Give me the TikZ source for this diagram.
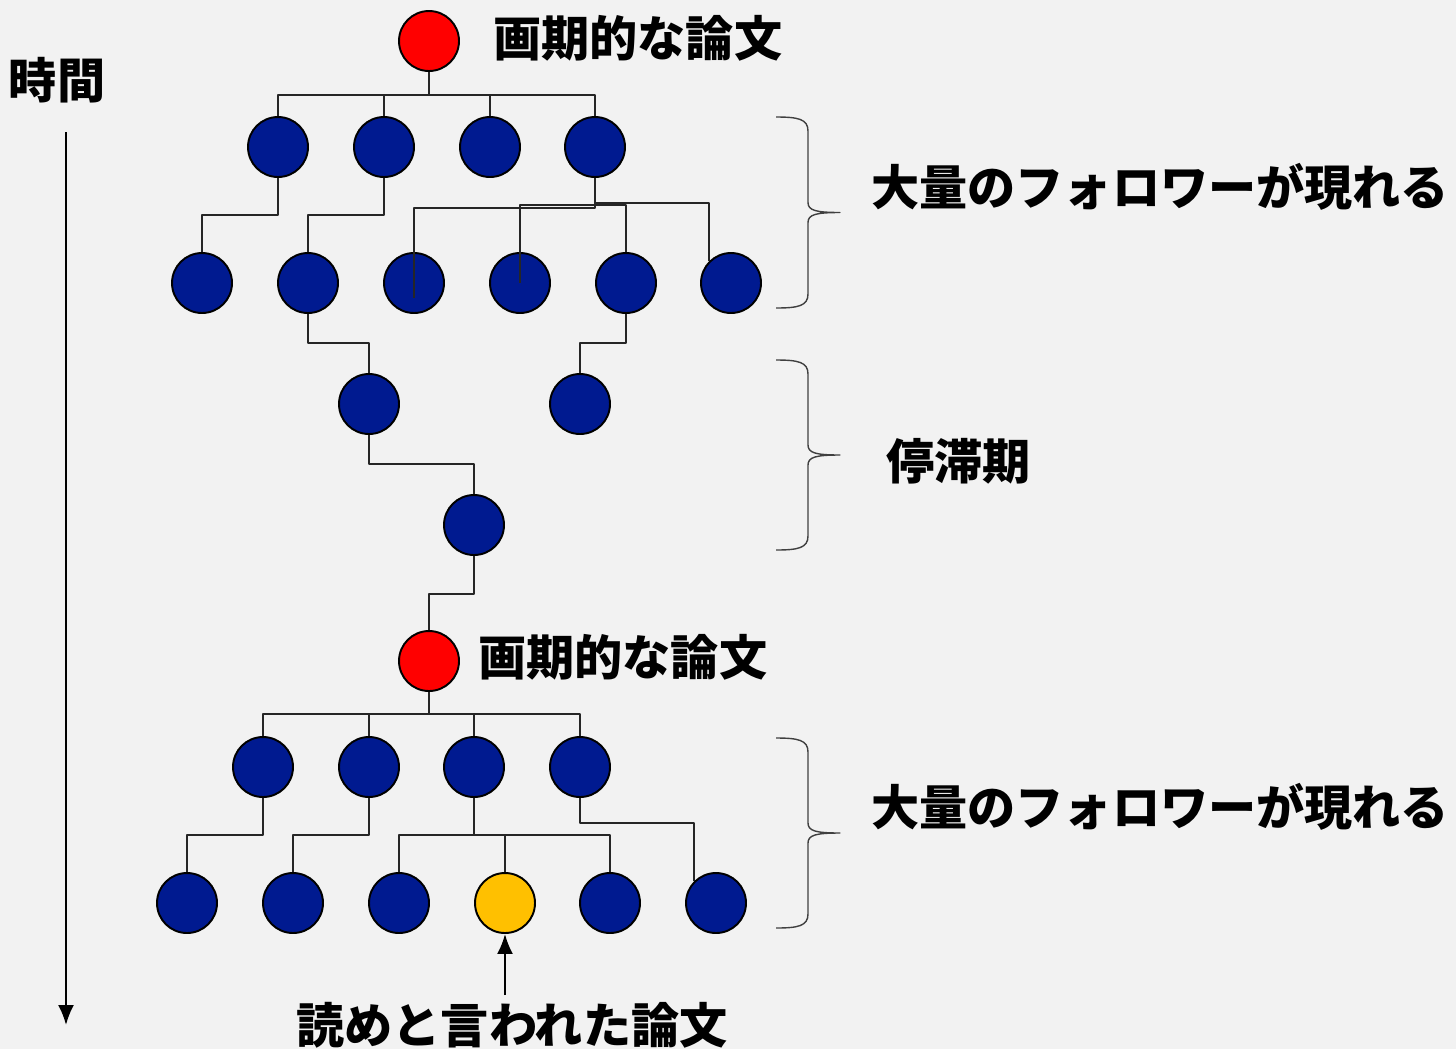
\documentclass[tikz,border=0pt]{standalone}
\usepackage{fontspec}
\newfontfamily\jpfont{Noto Sans CJK JP}
\usetikzlibrary{arrows.meta, calc}
\definecolor{paperblue}{HTML}{001A90}
\definecolor{seedred}{HTML}{FF0000}
\definecolor{readyellow}{HTML}{FFC000}
\definecolor{bggray}{HTML}{F2F2F2}
\tikzset{>={Latex[length=0.4cm,width=0.32cm]}}
\tikzset{paper/.style={circle, draw=black, line width=1.1pt, inner sep=0pt,
    minimum size=1.2cm, fill=paperblue}}
\tikzset{seed/.style={paper, fill=seedred}}
\tikzset{target/.style={paper, fill=readyellow}}
\tikzset{cite/.style={draw=black!85, line width=0.8pt}}
\tikzset{lbl/.style={font=\jpfont\bfseries\fontsize{27.4}{32}\selectfont, inner sep=0pt}}
\tikzset{bracket/.style={draw=black!75, line width=0.8pt}}

\begin{document}
\begin{tikzpicture}[x=0.02cm, y=-0.02cm, line join=round]
\fill[bggray] (0,0) rectangle (1456,1049);
\useasboundingbox (0,0) rectangle (1456,1049);

% papers
\node[seed] (seed1) at (429,41) {};
\foreach \x [count=\i] in {278,384,490,595}
    \node[paper] (a\i) at (\x,147) {};
\foreach \x [count=\i] in {202,308,414,520,626,731}
    \node[paper] (b\i) at (\x,283) {};
\node[paper] (c1) at (369,404) {};
\node[paper] (c2) at (580,404) {};
\node[paper] (d1) at (474,525) {};
\node[seed] (seed2) at (429,661) {};
\foreach \x [count=\i] in {263,369,474,580}
    \node[paper] (e\i) at (\x,767) {};
\foreach \x/\s [count=\i] in {187/paper,293/paper,399/paper,505/target,610/paper,716/paper}
    \node[\s] (f\i) at (\x,903) {};

% citations
\foreach \i in {1,...,4}
    \draw[cite] (seed1.south) -- ++(0,23) -| (a\i.north);
\draw[cite] (a1.south) -- ++(0,37) -| (b1.north);
\draw[cite] (a2.south) -- ++(0,37) -| (b2.north);
\draw[cite] (a4.south) -- ++(0,30) -| ($(b3)+(0,15)$);
\draw[cite] (a4.south) -- ++(0,27) -| (b4.center);
\draw[cite] (a4.south) -- ++(0,27) -| (b5.north);
\draw[cite] (a4.south) -- ++(0,25) -| (b6.north west);
\draw[cite] (b2.south) -- ++(0,29) -| (c1.north);
\draw[cite] (b5.south) -- ++(0,29) -| (c2.north);
\draw[cite] (c1.south) -- ++(0,29) -| (d1.north);
\draw[cite] (d1.south) -- ++(0,38) -| (seed2.north);
\foreach \i in {1,...,4}
    \draw[cite] (seed2.south) -- ++(0,22) -| (e\i.north);
\draw[cite] (e1.south) -- ++(0,37) -| (f1.north);
\draw[cite] (e2.south) -- ++(0,37) -| (f2.north);
\foreach \i in {3,4,5}
    \draw[cite] (e3.south) -- ++(0,37) -| (f\i.north);
\draw[cite] (e4.south) -- ++(0,25) -| (f6.north west);

% braces
\foreach \t/\b in {117/308, 360/550, 738/928} {
    \pgfmathsetmacro\bmid{(\t+\b)/2}
    \draw[bracket] (776,\t) .. controls (798,\t) and (808,{\t+2}) .. (808,{\t+14})
        -- (808,{\bmid-10}) .. controls (808,{\bmid-2}) and (816,\bmid) .. (840,\bmid)
        .. controls (816,\bmid) and (808,{\bmid+2}) .. (808,{\bmid+10})
        -- (808,{\b-14}) .. controls (808,{\b-2}) and (798,\b) .. (776,\b);
}

% labels
\node[lbl] (time) at (57,80) {時間};
\coordinate (ttop) at (66,132);
\coordinate (tbot) at (66,1025);
\draw[->, line width=1.2pt] (ttop) -- (tbot);
\node[lbl, anchor=west] (title1) at (493,38) {画期的な論文};
\node[lbl, anchor=west] (title2) at (478,657) {画期的な論文};
\node[lbl, anchor=west] (follow1) at (871,187) {大量のフォロワーが現れる};
\node[lbl, anchor=west] (stall) at (886,461) {停滞期};
\node[lbl, anchor=west] (follow2) at (871,807) {大量のフォロワーが現れる};
\node[lbl] (readme) at (512,1025) {読めと言われた論文};
\coordinate (readtail) at (505,995);
\draw[->, line width=1.2pt] (readtail) -- (f4.south);
\end{tikzpicture}
\end{document}
